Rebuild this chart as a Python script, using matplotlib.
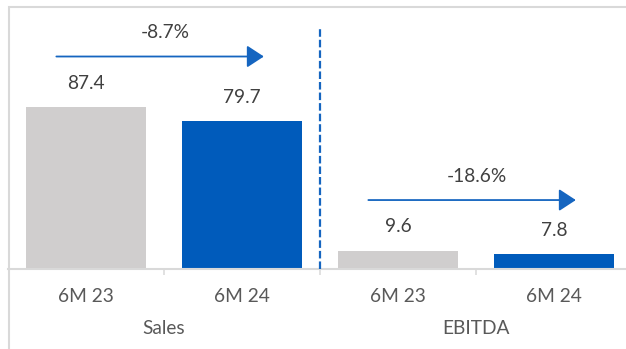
import matplotlib
matplotlib.use("Agg")
import matplotlib.pyplot as plt
from matplotlib.patches import Rectangle
from matplotlib.transforms import blended_transform_factory, offset_copy

# Data
groups = ["Sales", "EBITDA"]
periods = ["6M 23", "6M 24"]
sales = [87.4, 79.7]
ebitda = [9.6, 7.8]
changes = ["-8.7%", "-18.6%"]

GREY = "#D0CECE"
BLUE = "#005BBB"
ARROW = "#1565C0"
LINE = "#D9D9D9"
TXT = "#404040"
TICK = "#595959"

plt.rcParams["font.family"] = ["Lato", "DejaVu Sans"]
FS = 13.8

W, H = 626, 349
fig = plt.figure(figsize=(W / 100, H / 100), dpi=100)

# chart frame (extends past the right and bottom edges)
fig.add_artist(Rectangle((8.5 / W, -0.1), 1.2, (H - 7.5) / H + 0.1,
                         transform=fig.transFigure, fill=False,
                         edgecolor=LINE, lw=1.5))

slot = 156.0
left_px, base_px, top_px = 8.0, 268.5, 8.0
ppu = 1.845  # pixels per value unit
ax = fig.add_axes([left_px / W, (H - base_px) / H, (W - left_px) / W,
                   (base_px - top_px) / H])
ax.set_xlim(-0.5, -0.5 + (W - left_px) / slot)
ax.set_ylim(0, (base_px - top_px) / ppu)

series = [sales, ebitda]
colors = [GREY, BLUE]
bar_w = 120 / slot

for g, vals in enumerate(series):
    xs = [2 * g, 2 * g + 1]
    ax.bar(xs, vals, width=bar_w, color=colors, zorder=2)
    for x, v in zip(xs, vals):
        ax.annotate(f"{v:.1f}", (x, v), xytext=(0, 17.3),
                    textcoords="offset points", ha="center", va="center",
                    fontsize=FS, color=TXT)
    # change arrow above the pair of bars
    ya = max(vals) + 27.5
    x0, x1 = xs[0] - 0.19, xs[1] + 0.14
    ax.annotate("", xy=(x1, ya), xytext=(x0, ya),
                arrowprops=dict(arrowstyle="-|>,head_length=0.52,head_width=0.34",
                                color=ARROW, lw=1.3, shrinkA=0, shrinkB=0,
                                mutation_scale=20))
    ax.text((x0 + x1) / 2 + 0.03, ya + 12.8, changes[g], ha="center",
            va="center", fontsize=FS, color=TXT)

# dashed separator between the two groups
ax.vlines(1.5, 0, (base_px - 29) / ppu, colors=ARROW, lw=1.6,
          linestyles=[(0, (3.4, 1.35))], zorder=3)

# axes styling
for s in ["top", "right", "left"]:
    ax.spines[s].set_visible(False)
ax.spines["bottom"].set_color(LINE)
ax.spines["bottom"].set_linewidth(1.5)
ax.set_yticks([])
ax.set_xticks([0.5, 1.5, 2.5])
ax.set_xticklabels([])
ax.tick_params(axis="x", length=4.5, width=1.1, color=LINE)

# two-level category labels
tr = blended_transform_factory(ax.transData, ax.transAxes)
for g, name in enumerate(groups):
    for k, p in enumerate(periods):
        ax.text(2 * g + k, 0, p, ha="center", va="center", fontsize=FS,
                color=TICK,
                transform=offset_copy(tr, fig=fig, y=-28.5, units="dots"))
    ax.text(2 * g + 0.5, 0, name, ha="center", va="center", fontsize=FS,
            color=TICK,
            transform=offset_copy(tr, fig=fig, y=-59.5, units="dots"))

fig.savefig("out.png", dpi=100)
